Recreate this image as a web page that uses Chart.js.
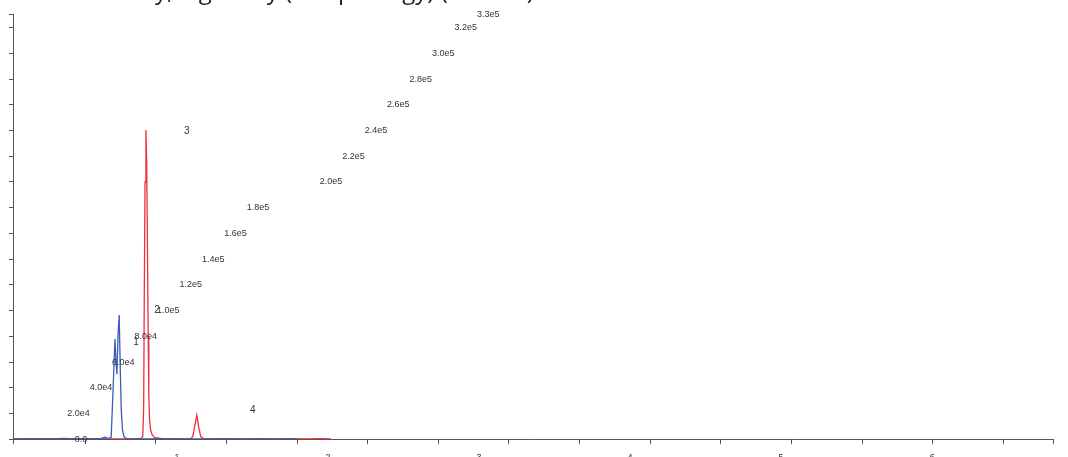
<!DOCTYPE html>
<html>
<head>
<meta charset="utf-8">
<script src="https://cdn.jsdelivr.net/npm/chart.js@4.4.1/dist/chart.umd.min.js"></script>
<style>
  html, body { margin: 0; padding: 0; background: #fff; overflow: hidden; }
  /* the reference is a cropped screenshot: title cut at the top, x labels cut at the bottom */
  #wrap { width: 1068px; height: 491px; margin-top: -20px; }
</style>
</head>
<body>
<div id="wrap"><canvas id="chrom"></canvas></div>
<script>
// retention time (min) and intensity
var blueTime = [-0.08, 0.0, 0.1, 0.2, 0.3, 0.4, 0.45, 0.5, 0.524, 0.545, 0.565, 0.578, 0.59, 0.597, 0.603, 0.61, 0.618, 0.625, 0.632, 0.64, 0.65, 0.665, 0.7, 0.8, 0.9, 1.0, 1.1, 1.2, 1.3, 1.4, 1.5, 1.6, 1.7, 1.8];
var blueValue = [300, 200, 400, 150, 300, 200, 350, 600, 1500, 500, 1500, 40000, 77800, 60000, 50600, 80000, 96500, 55000, 22000, 7000, 2000, 500, 300, 200, 350, 150, 300, 200, 400, 250, 300, 150, 300, 200];

var redTime = [-0.08, 0.05, 0.15, 0.25, 0.35, 0.45, 0.55, 0.65, 0.72, 0.76, 0.774, 0.78, 0.784, 0.789, 0.795, 0.8, 0.805, 0.81, 0.814, 0.819, 0.826, 0.836, 0.85, 0.9, 0.95, 1.0, 1.05, 1.09, 1.105, 1.118, 1.132, 1.145, 1.158, 1.175, 1.25, 1.35, 1.45, 1.55, 1.65, 1.75, 1.85, 1.95, 2.02];
var redValue = [200, 500, 300, 600, 200, 400, 300, 200, 300, 600, 2000, 25000, 110000, 200000, 240500, 215000, 150000, 80000, 35000, 15000, 7000, 3500, 1500, 400, 300, 500, 300, 400, 2000, 10000, 18700, 9000, 2000, 500, 300, 500, 200, 400, 250, 350, 200, 400, 300];

var peakNames = ["1", "2", "3", "4"];
var peakLabelTime = [0.729, 0.868, 1.066, 1.503];
var peakLabelValue = [75500, 100400, 239700, 22600];

var yTickValues = [0, 20000, 40000, 60000, 80000, 100000, 120000, 140000, 160000, 180000, 200000, 220000, 240000, 260000, 280000, 300000, 320000, 330000];
var yTickLabels = ["0.0", "2.0e4", "4.0e4", "6.0e4", "8.0e4", "1.0e5", "1.2e5", "1.4e5", "1.6e5", "1.8e5", "2.0e5", "2.2e5", "2.4e5", "2.6e5", "2.8e5", "3.0e5", "3.2e5", "3.3e5"];
var xTickValues = [1, 2, 3, 4, 5, 6];

function toPoints(xs, ys) {
  return xs.map(function (x, i) { return { x: x, y: ys[i] }; });
}

// the exported picture lays the y labels out on a slant, copy that here
const slantedLabels = {
  id: "slantedLabels",
  afterDraw: function (chart) {
    var ctx = chart.ctx;
    var y = chart.scales.y;
    ctx.save();
    ctx.font = "9px 'Liberation Sans', Arial, sans-serif";
    ctx.fillStyle = "#333";
    ctx.textAlign = "center";
    ctx.textBaseline = "middle";
    yTickValues.forEach(function (v, i) {
      var cx = 56 + 22.45 * i + (i >= 10 ? 50.5 : 0);
      if (i === 0) cx = 81;
      ctx.fillText(yTickLabels[i], cx, y.getPixelForValue(v));
    });
    ctx.font = "10px 'Liberation Sans', Arial, sans-serif";
    peakNames.forEach(function (name, i) {
      ctx.fillText(name, chart.scales.x.getPixelForValue(peakLabelTime[i]), y.getPixelForValue(peakLabelValue[i]));
    });
    ctx.restore();
  }
};

var ctx = document.getElementById("chrom").getContext("2d");
var chart = new Chart(ctx, {
  type: "line",
  data: {
    datasets: [
      {
        data: toPoints(blueTime, blueValue),
        borderColor: "#3b5cb8",
        borderWidth: 1.3,
        pointRadius: 0,
        tension: 0
      },
      {
        data: toPoints(redTime, redValue),
        borderColor: "#ee2e3c",
        borderWidth: 1.3,
        pointRadius: 0,
        tension: 0
      }
    ]
  },
  options: {
    responsive: true,
    maintainAspectRatio: false,
    animation: false,
    layout: { padding: { left: 9, right: 15, top: 0, bottom: 8 } },
    plugins: {
      legend: { display: false },
      tooltip: { enabled: false },
      title: {
        display: true,
        text: "Total Intensity, Signal by (Morphology) (Counts)",
        align: "start",
        color: "#222",
        font: { family: "'Open Sans'", size: 24, weight: "normal" },
        padding: { top: -2, bottom: 8 }
      }
    },
    scales: {
      x: {
        type: "linear",
        min: -0.085,
        max: 6.8,
        weight: 1,
        afterBuildTicks: function (axis) {
          axis.ticks = xTickValues.map(function (v) { return { value: v }; });
        },
        ticks: { color: "#333", font: { size: 9, family: "'Liberation Sans'" }, padding: 0, maxRotation: 0 },
        grid: { display: false },
        border: { display: false }
      },
      xMarks: {
        type: "linear",
        position: "bottom",
        min: -2.02,
        max: 12.7,
        weight: 0,
        ticks: { display: false, stepSize: 1 },
        grid: { drawOnChartArea: false, tickLength: 5, color: "#555" },
        border: { color: "#555" }
      },
      y: {
        min: 0,
        max: 330000,
        afterBuildTicks: function (axis) {
          axis.ticks = yTickValues.map(function (v) { return { value: v }; });
        },
        ticks: { display: false },
        grid: { drawOnChartArea: false, tickLength: 4, color: "#555" },
        border: { color: "#555" }
      }
    }
  },
  plugins: [slantedLabels]
});
</script>
</body>
</html>
